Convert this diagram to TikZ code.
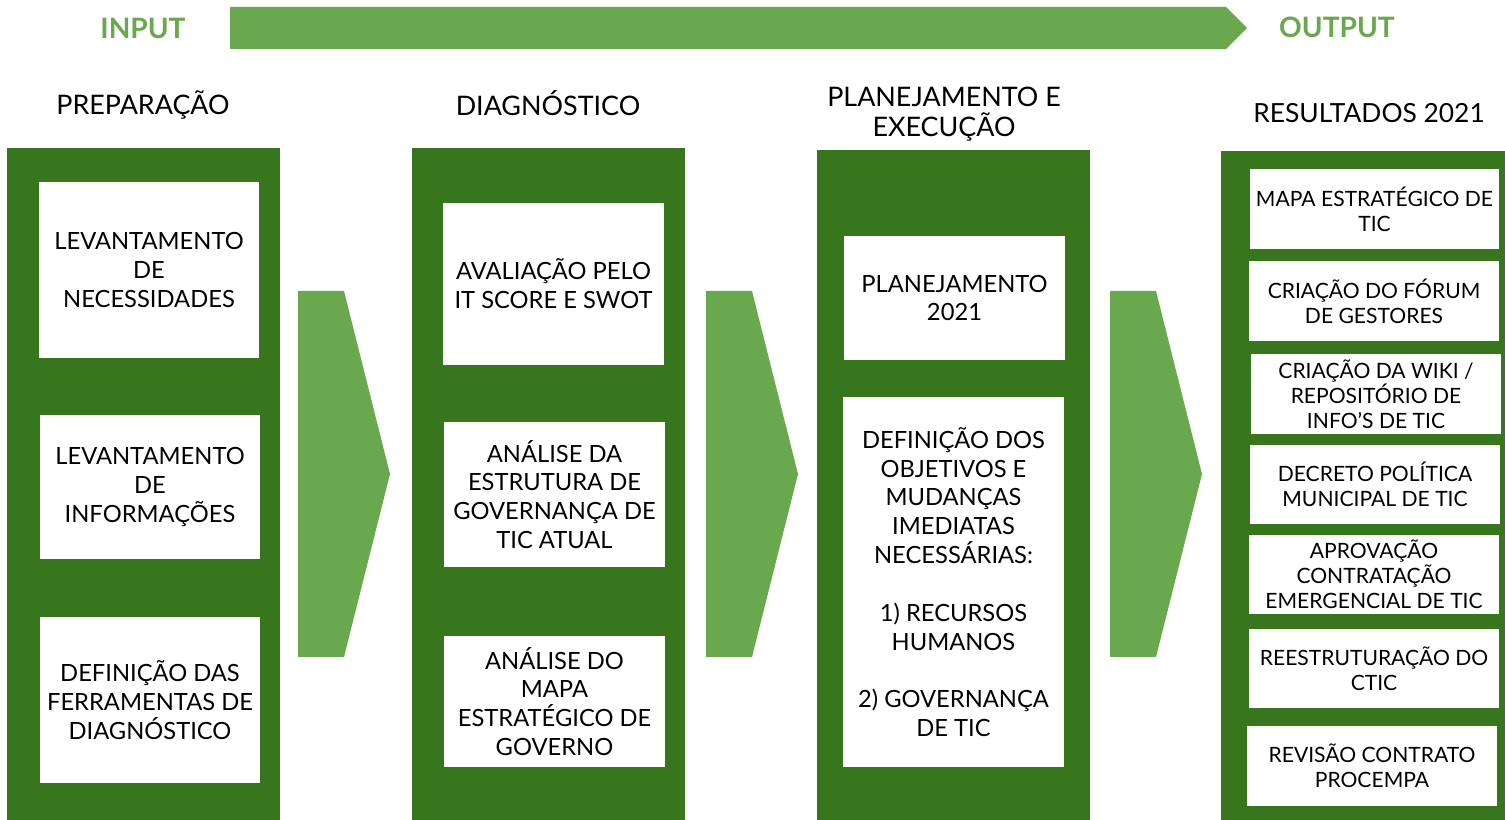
\documentclass[tikz,border=0pt]{standalone}
\usepackage{fontspec}
\setmainfont{Lato}
\definecolor{darkgreen}{HTML}{38761D}
\definecolor{lightgreen}{HTML}{6AA84F}

\begin{document}
\begin{tikzpicture}[x=0.02cm, y=-0.02cm]
  \tikzstyle{every node}=[font=\fontsize{13.5}{16.4}\selectfont, inner sep=0pt, align=center]
  \tikzstyle{column}=[rectangle, fill=darkgreen, minimum width=5.46cm, minimum height=13.44cm]
  \tikzstyle{item}=[rectangle, fill=white, minimum width=4.4cm]
  \tikzstyle{result}=[rectangle, fill=white, minimum width=5cm, minimum height=1.6cm,
                      font=\fontsize{12}{14.2}\selectfont]
  \tikzstyle{heading}=[font=\fontsize{15.3}{17.4}\selectfont]
  \tikzstyle{io}=[font=\fontsize{16}{18}\selectfont\bfseries, text=lightgreen]

  \useasboundingbox (0,0) rectangle (1505,820);

  % Top arrow
  \fill[lightgreen] (230,7) -- (1226,7) -- (1247,28) -- (1226,49) -- (230,49) -- cycle;
  \node (input) [io] at (143,28) {INPUT};
  \node (output) [io] at (1337,27) {OUTPUT};

  % Headings
  \node (hprep) [heading] at (143,105) {PREPARAÇÃO};
  \node (hdiag) [heading] at (548,103) {DIAGNÓSTICO};
  \node (hplan) [heading] at (944,114) {PLANEJAMENTO E\\ EXECUÇÃO};
  \node (hres) [heading, font=\fontsize{15}{17}\selectfont] at (1369,113) {RESULTADOS 2021};

  % Main boxes
  \node (prep) [column] at (143.5,484) {};
  \node (diag) [column] at (548.5,484) {};
  \node (plan) [column, minimum height=13.4cm] at (953.5,485) {};
  \node (res) [column, minimum width=5.68cm, minimum height=13.38cm] at (1363,485.5) {};

  % Chevrons
  \foreach \x in {298,706,1110}
    \fill[lightgreen] (\x,291) -- (\x+46,291) -- (\x+92,474) -- (\x+46,657) -- (\x,657) -- cycle;

  % Preparacao
  \node (prep1) [item, minimum height=3.52cm] at (149,270)
                {LEVANTAMENTO\\ DE\\ NECESSIDADES};
  \node (prep2) [item, minimum height=2.88cm] at (150,487)
                {LEVANTAMENTO\\ DE\\ INFORMAÇÕES};
  \node (prep3) [item, minimum height=3.32cm] at (150,700)
                {DEFINIÇÃO DAS\\ FERRAMENTAS DE\\ DIAGNÓSTICO};

  % Diagnostico
  \node (diag1) [item, minimum width=4.42cm, minimum height=3.24cm] at (553.5,284)
                {AVALIAÇÃO PELO\\ IT SCORE E SWOT};
  \node (diag2) [item, minimum width=4.42cm, minimum height=2.9cm] at (554.5,494.5)
                {ANÁLISE DA\\ ESTRUTURA DE\\ GOVERNANÇA DE\\ TIC ATUAL};
  \node (diag3) [item, minimum width=4.42cm, minimum height=2.62cm] at (554.5,701.5)
                {ANÁLISE DO\\ MAPA\\ ESTRATÉGICO DE\\ GOVERNO};

  % Planejamento
  \node (plan1) [item, minimum width=4.42cm, minimum height=2.48cm] at (954.5,298)
                {PLANEJAMENTO\\ 2021};
  \node (plan2) [item, minimum width=4.42cm, minimum height=7.4cm] at (953.5,582)
                {DEFINIÇÃO DOS\\ OBJETIVOS E\\ MUDANÇAS\\ IMEDIATAS\\ NECESSÁRIAS:\\[16.4pt]
                1) RECURSOS\\ HUMANOS\\[16.4pt] 2) GOVERNANÇA\\ DE TIC};

  % Resultados
  \node (res1) [result] at (1374.5,209) {MAPA ESTRATÉGICO DE\\ TIC};
  \node (res2) [result] at (1374,301) {CRIAÇÃO DO FÓRUM\\ DE GESTORES};
  \node (res3) [result] at (1376,394) {CRIAÇÃO DA WIKI /\\ REPOSITÓRIO DE\\ INFO’S DE TIC};
  \node (res4) [result] at (1375,484.5) {DECRETO POLÍTICA\\ MUNICIPAL DE TIC};
  \node (res5) [result] at (1374,574.5) {APROVAÇÃO\\ CONTRATAÇÃO\\ EMERGENCIAL DE TIC};
  \node (res6) [result] at (1374,668.5) {REESTRUTURAÇÃO DO\\ CTIC};
  \node (res7) [result] at (1372,766) {REVISÃO CONTRATO\\ PROCEMPA};
\end{tikzpicture}
\end{document}
